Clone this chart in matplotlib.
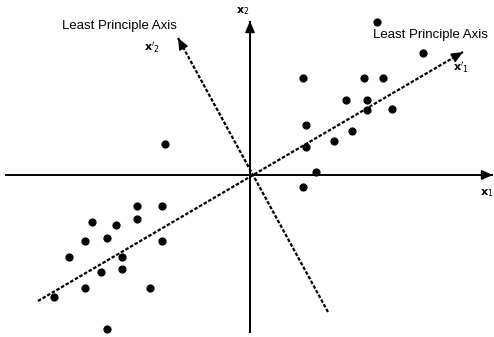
import numpy as np
import matplotlib.pyplot as plt

# scatter points (origin at the axes crossing)
pts_x = [127, 173, 53, 114, 133, 96, 117, 117, 142, 56, 102, 84, 56, 66, 53,
         -85, -113, -88, -158, -134, -113, -165, -143, -88, -181, -128, -128,
         -149, -165, -100, -196, -143]
pts_y = [153, 122, 97, 97, 97, 75, 75, 65, 66, 50, 44, 34, 28, 3, -12,
         31, -31, -31, -47, -50, -44, -66, -63, -66, -82, -82, -94,
         -97, -113, -113, -122, -154]

# principal axes (start, tip)
major_axis = [(-212, -126), (213, 123)]
minor_axis = [(78, -137), (-72, 137)]

# coordinate axes
x_axis = [(-245, 0), (243, 0)]
y_axis = [(0, -158), (0, 154)]

label_text = "Least Principle Axis"
label_pos = [(-131, 149), (180, 140)]

fig = plt.figure(figsize=(4.94, 3.37), dpi=100)
ax = fig.add_axes([0, 0, 1, 1])
ax.set_xlim(-250, 244)
ax.set_ylim(-162, 175)
ax.axis("off")

def arrow_line(ax, p0, p1, dashed=False, lw=1.4):
    ls = (0, (1.6, 0.8)) if dashed else "-"
    ax.plot([p0[0], p1[0]], [p0[1], p1[1]], color="black", lw=lw, ls=ls,
            solid_capstyle="butt")
    d = np.array(p1, float) - np.array(p0, float)
    d = d / np.hypot(*d)
    start = np.array(p1) - d * 6
    ax.annotate("", xy=p1, xytext=start,
                arrowprops=dict(arrowstyle="-|>,head_length=0.7,head_width=0.3",
                                color="black", lw=1.0, shrinkA=0, shrinkB=0))

arrow_line(ax, *x_axis)
arrow_line(ax, *y_axis)
arrow_line(ax, *major_axis, dashed=True, lw=1.6)
arrow_line(ax, *minor_axis, dashed=True, lw=1.6)

ax.scatter(pts_x, pts_y, s=24, color="black", zorder=3)

for (lx, ly) in label_pos:
    ax.text(lx, ly, label_text, fontsize=9.5, family="Liberation Sans",
            ha="center", va="center")

ax.text(-98, 127, r"$\mathbf{x}'_2$", fontsize=8, ha="center", va="center")
ax.text(-7, 164, r"$\mathbf{x}_2$", fontsize=8, ha="center", va="center")
ax.text(211, 107, r"$\mathbf{x}'_1$", fontsize=8, ha="center", va="center")
ax.text(237, -18, r"$\mathbf{x}_1$", fontsize=8, ha="center", va="center")

fig.savefig("out.png", dpi=100)
